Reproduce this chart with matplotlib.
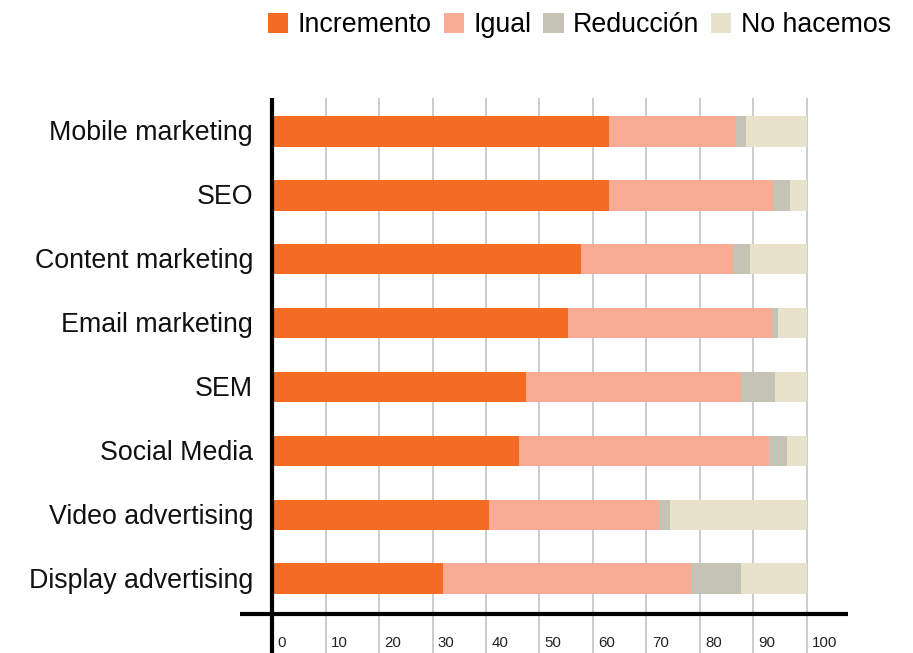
import matplotlib
matplotlib.use("Agg")
import matplotlib.pyplot as plt
import numpy as np
from matplotlib.patches import Patch

categorias = ["Mobile marketing", "SEO", "Content marketing", "Email marketing",
              "SEM", "Social Media", "Video advertising", "Display advertising"]
incremento = [63.0, 63.0, 57.8, 55.4, 47.4, 46.1, 40.6, 32.0]
igual = [23.7, 30.6, 28.4, 38.0, 40.3, 46.8, 31.7, 46.4]
reduccion = [1.9, 3.2, 3.1, 1.3, 6.3, 3.3, 2.2, 9.2]
no_hacemos = [11.4, 3.2, 10.7, 5.3, 6.0, 3.8, 25.5, 12.4]
series_nombres = ["Incremento", "Igual", "Reducción", "No hacemos"]
ticks_x = [0, 10, 20, 30, 40, 50, 60, 70, 80, 90, 100]

colores = ["#F46B24", "#F9AC93", "#C5C2B6", "#E8E2CB"]
fuente = ["Liberation Sans", "DejaVu Sans"]
fuente_ticks = ["Liberation Sans Narrow", "Liberation Sans", "DejaVu Sans"]

fig = plt.figure(figsize=(9.13, 6.53), dpi=100)
ax = fig.add_axes([240 / 913, 0, 608 / 913, 555 / 653])

y = np.arange(len(categorias))
series = [incremento, igual, reduccion, no_hacemos]
izquierda = np.zeros(len(categorias))
for datos, color, nombre in zip(series, colores, series_nombres):
    ax.barh(y, datos, left=izquierda, height=0.48, color=color, zorder=2, label=nombre)
    izquierda += np.array(datos)

# lineas de la rejilla
ax.vlines(ticks_x[1:], -0.52, 8.16, colors="#C6C9CD", linewidth=1.3, zorder=1)

ax.set_xlim(-6.0, 107.7)
ax.set_ylim(8.16, -0.52)

# ejes negros
ax.axvline(0, color="black", linewidth=3, zorder=3)
ax.axhline(7.547, color="black", linewidth=3, zorder=3)

for i, cat in enumerate(categorias):
    ax.text(-3.55, i + 0.03, cat, ha="right", va="center", fontsize=19.3, family=fuente, color="#111111")

for t in ticks_x:
    ax.text(t + 1.0, 8.0, str(t), ha="left", va="center", fontsize=10.8, family=fuente_ticks, color="#222222")

ax.axis("off")

handles = [Patch(facecolor=c, edgecolor="none") for c in colores]
fig.legend(handles, series_nombres, loc="upper right", bbox_to_anchor=(903 / 913, 1.0),
           ncol=4, frameon=False, prop={"family": fuente, "size": 19.3},
           handlelength=0.75, handleheight=0.75, handletextpad=0.35, columnspacing=0.45,
           borderaxespad=0.05)

fig.savefig("out.png", dpi=100)
